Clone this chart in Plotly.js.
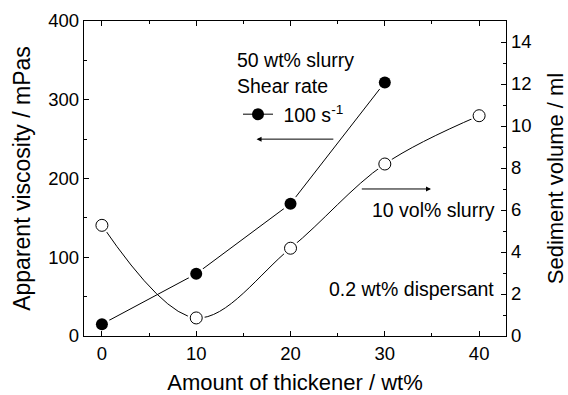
<!DOCTYPE html>
<html>
<head>
<meta charset="utf-8">
<script src="https://cdn.plot.ly/plotly-3.0.1.min.js"></script>
<style>html,body{margin:0;padding:0;background:#fff}#chart{width:568px;height:395px}</style>
</head>
<body>
<div id="chart"></div>
<script>
// Data
var thickener = [0, 10, 20, 30, 40];            // wt%
var viscX = [0, 10, 20, 30];
var viscosity = [15, 79, 168, 322];              // mPa s (left axis)
var sediment = [5.27, 0.86, 4.18, 8.19, 10.49];  // ml (right axis)
var xTicks = [0, 10, 20, 30, 40];
var yTicks = [0, 100, 200, 300, 400];
var y2Ticks = [0, 2, 4, 6, 8, 10, 12, 14];

var FONT = "Liberation Sans, Arial, Helvetica, sans-serif";
var L = 84, R = 506, T = 21, B = 336;
function px(x){ return (x - L) / (R - L); }
function py(y){ return (B - y) / (B - T); }

var traces = [
  { x: viscX, y: viscosity, mode: 'lines+markers', name: '&nbsp;100 s<sup>-1</sup>',
    line: {color: '#000', width: 1}, marker: {symbol: 'circle', size: 12, color: '#000'},
    showlegend: true, hoverinfo: 'skip' },
  { x: thickener, y: sediment, yaxis: 'y2', mode: 'lines', line: {color: '#000', width: 1, shape: 'spline', smoothing: 1},
    showlegend: false, hoverinfo: 'skip' },
  // white halos to leave a small gap between lines and symbols
  { x: viscX, y: viscosity, mode: 'markers', marker: {size: 17, color: '#fff'}, showlegend: false, hoverinfo: 'skip' },
  { x: thickener, y: sediment, yaxis: 'y2', mode: 'markers', marker: {size: 17, color: '#fff'}, showlegend: false, hoverinfo: 'skip' },
  { x: viscX, y: viscosity, mode: 'markers', marker: {size: 12, color: '#000'}, showlegend: false, hoverinfo: 'skip' },
  { x: thickener, y: sediment, yaxis: 'y2', mode: 'markers',
    marker: {size: 12, color: '#fff', line: {color: '#000', width: 1}}, showlegend: false, hoverinfo: 'skip' }
];

var axBase = {
  showgrid: false, zeroline: false, showline: true, linecolor: '#000', linewidth: 1.3,
  ticks: 'inside', ticklen: 5, tickwidth: 1, tickcolor: '#000',
  tickfont: {family: FONT, size: 18.5, color: '#000'}
};

var layout = {
  width: 568, height: 395,
  margin: {l: L, r: 568 - R, t: T, b: 395 - B, pad: 0},
  paper_bgcolor: '#fff', plot_bgcolor: '#fff',
  font: {family: FONT, color: '#000'},
  showlegend: true,
  legend: {x: px(238), y: py(95), xanchor: 'left', yanchor: 'top', bgcolor: 'rgba(0,0,0,0)',
           font: {family: FONT, size: 19.5, color: '#000'}, tracegroupgap: 0},
  xaxis: Object.assign({}, axBase, {
    range: [-1.9, 42.85], tickvals: xTicks, ticktext: xTicks.map(String), mirror: 'ticks',
    minor: {dtick: 5, tick0: 0, ticks: 'inside', ticklen: 3, tickcolor: '#000'},
    title: {text: 'Amount of thickener / wt%', font: {family: FONT, size: 22, color: '#000'}, standoff: 13}
  }),
  yaxis: Object.assign({}, axBase, {
    range: [0, 400], tickvals: yTicks, ticktext: yTicks.map(String),
    minor: {dtick: 50, tick0: 0, ticks: 'inside', ticklen: 3, tickcolor: '#000'},
    title: {text: 'Apparent viscosity / mPas', font: {family: FONT, size: 23, color: '#000'}, standoff: 11}
  }),
  yaxis2: Object.assign({}, axBase, {
    overlaying: 'y', side: 'right', range: [0, 15], tickvals: y2Ticks, ticktext: y2Ticks.map(String),
    minor: {dtick: 1, tick0: 0, ticks: 'inside', ticklen: 3, tickcolor: '#000'},
    title: {text: 'Sediment volume / ml', font: {family: FONT, size: 22, color: '#000'}, standoff: 18}
  }),
  annotations: [
    {xref: 'paper', yref: 'paper', x: px(235), y: py(60), xanchor: 'left', yanchor: 'middle', showarrow: false,
     text: '50 wt% slurry', font: {family: FONT, size: 19.5, color: '#000'}},
    {xref: 'paper', yref: 'paper', x: px(235), y: py(86), xanchor: 'left', yanchor: 'middle', showarrow: false,
     text: 'Shear rate', font: {family: FONT, size: 19.5, color: '#000'}},
    {xref: 'paper', yref: 'paper', x: px(370), y: py(210), xanchor: 'left', yanchor: 'middle', showarrow: false,
     text: '10 vol% slurry', font: {family: FONT, size: 19.5, color: '#000'}},
    {xref: 'paper', yref: 'paper', x: px(327), y: py(289), xanchor: 'left', yanchor: 'middle', showarrow: false,
     text: '0.2 wt% dispersant', font: {family: FONT, size: 19.5, color: '#000'}},
    // arrows indicating which axis each curve uses
    {xref: 'x', yref: 'y', axref: 'x', ayref: 'y', x: 16.4, y: 250, ax: 24.7, ay: 250, text: '',
     showarrow: true, arrowhead: 2, arrowsize: 1, arrowwidth: 1, arrowcolor: '#000'},
    {xref: 'x', yref: 'y', axref: 'x', ayref: 'y', x: 34.9, y: 186.7, ax: 27.4, ay: 186.7, text: '',
     showarrow: true, arrowhead: 2, arrowsize: 1, arrowwidth: 1, arrowcolor: '#000'}
  ]
};

Plotly.newPlot('chart', traces, layout, {staticPlot: true, displayModeBar: false});
</script>
</body>
</html>
